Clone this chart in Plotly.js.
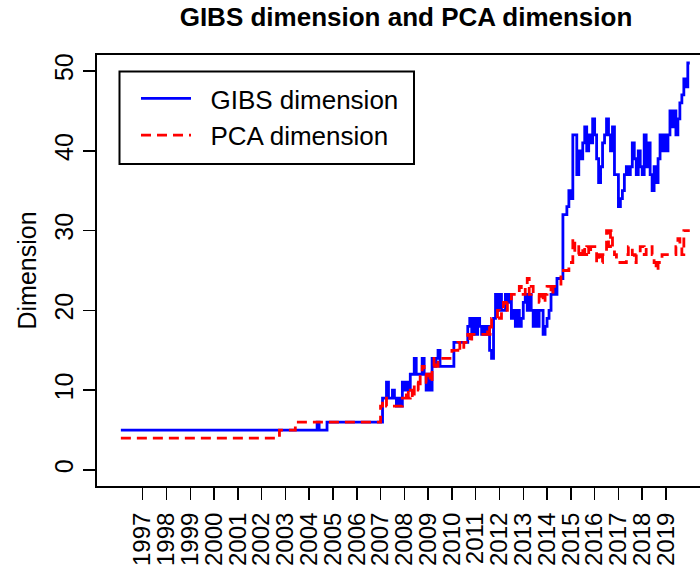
<!DOCTYPE html>
<html><head><meta charset="utf-8">
<script src="https://cdn.plot.ly/plotly-3.0.1.min.js"></script>
<style>html,body{margin:0;padding:0;overflow:hidden;background:#fff}#chart{width:730px;height:569px}</style>
</head><body><div id="chart"></div>
<script>
// tick labels (years)
const years = [1997,1998,1999,2000,2001,2002,2003,2004,2005,2006,2007,2008,2009,2010,2011,2012,2013,2014,2015,2016,2017,2018,2019];

// early period: change points (decimal year) and values
const gibsEarlyX = [1996.083, 2004.333, 2004.417, 2004.75];
const gibsEarlyY = [5, 6, 5, 6];
const pcaEarlyX = [1996.083, 2002.75, 2003.417];
const pcaEarlyY = [4, 5, 6];

// monthly values from Jan 2007 to Jan 2020
const monthlyStart = 2007;
const gibsMonthly = [
  6, 9, 9, 11, 9, 9, 10, 9, 8, 9, 8, 11,
  10, 11, 10, 12, 12, 14, 12, 12, 12, 14, 12, 10,
  12, 10, 14, 13, 14, 15, 13, 13, 13, 13, 13, 13,
  13, 16, 16, 16, 16, 16, 16, 16, 18, 19, 17, 19,
  17, 19, 18, 17, 18, 17, 18, 15, 14, 19, 22, 20,
  22, 20, 20, 22, 21, 22, 19, 20, 18, 20, 18, 19,
  21, 22, 20, 22, 20, 18, 20, 18, 20, 20, 17, 18,
  19, 20, 22, 23, 22, 24, 24, 24, 32, 32, 33, 35,
  34, 42, 42, 37, 40, 39, 41, 43, 40, 42, 41, 44,
  42, 39, 36, 38, 41, 42, 44, 42, 40, 43, 37, 37,
  33, 34, 35, 37, 38, 37, 38, 41, 39, 37, 40, 38,
  37, 42, 38, 41, 37, 35, 38, 36, 39, 42, 40, 42,
  40, 42, 45, 43, 45, 42, 44, 46, 47, 49, 48, 51,
  51
];
const pcaMonthly = [
  8, 9, 9, 8, 8, 8, 8, 8, 8, 8, 8, 9,
  9, 10, 9, 10, 9, 11, 11, 10, 12, 13, 12, 11,
  12, 11, 13, 14, 13, 14, 14, 14, 14, 14, 14, 14,
  15, 15, 15, 16, 15, 15, 16, 16, 17, 16, 17, 17,
  17, 17, 17, 17, 17, 17, 18, 17, 19, 19, 19, 20,
  19, 20, 21, 20, 21, 21, 22, 22, 22, 22, 23, 22,
  22, 23, 24, 22, 23, 22, 22, 22, 21, 22, 21, 22,
  23, 23, 22, 23, 23, 23, 23, 25, 25, 25, 25, 26,
  26, 29, 27, 27, 28, 27, 28, 27, 28, 27, 28, 28,
  28, 26, 27, 26, 27, 27, 30, 28, 30, 28, 27, 26,
  26, 26, 26, 26, 27, 28, 28, 27, 26, 27, 27, 28,
  28, 27, 28, 28, 28, 27, 26, 25, 26, 26, 27, 27,
  27, 27, 27, 27, 27, 28, 29, 28, 27, 30, 30, 30,
  30
];

const monthX = gibsMonthly.map((_, i) => monthlyStart + i / 12);
const gibsX = gibsEarlyX.concat(monthX);
const gibsY = gibsEarlyY.concat(gibsMonthly);
const pcaX = pcaEarlyX.concat(pcaMonthly.map((_, i) => monthlyStart + i / 12));
const pcaY = pcaEarlyY.concat(pcaMonthly);

const font = 'Liberation Sans, Arial, sans-serif';
const pad = '\u00a0\u00a0';

const traces = [
  {x: gibsX, y: gibsY, type: 'scatter', mode: 'lines', name: pad + 'GIBS dimension',
   line: {color: '#0000FF', width: 2.8, shape: 'hv'}},
  {x: pcaX, y: pcaY, type: 'scatter', mode: 'lines', name: pad + 'PCA dimension',
   line: {color: '#FF0000', width: 2.8, shape: 'hv', dash: '10px,6px'}}
];

const axisCommon = {
  showgrid: false, zeroline: false, showline: true, mirror: true,
  linecolor: '#000', linewidth: 2, ticks: 'outside', ticklen: 12,
  tickwidth: 1.5, tickcolor: '#000', tickangle: -90,
  tickfont: {family: font, size: 25, color: '#000'}
};

const layout = {
  width: 730, height: 569,
  margin: {l: 97, r: 15, t: 55, b: 83},
  paper_bgcolor: '#fff', plot_bgcolor: '#fff',
  font: {family: font, color: '#000'},
  title: {text: '<b>GIBS dimension and PCA dimension</b>', font: {family: font, size: 26, color: '#000'},
          x: 0.5, xref: 'paper', y: 1 - 17 / 569, yref: 'container', yanchor: 'middle'},
  xaxis: Object.assign({}, axisCommon, {
    range: [1995.08, 2021.06], tickmode: 'array', tickvals: years, ticktext: years.map(String),
    ticklabelstandoff: 3, tickfont: {family: font, size: 24, color: '#000'}
  }),
  yaxis: Object.assign({}, axisCommon, {
    range: [-2, 52], tickmode: 'array', tickvals: [0, 10, 20, 30, 40, 50],
    title: {text: 'Dimension', font: {family: font, size: 25, color: '#000'}}
  }),
  legend: {
    x: (136 - 97) / 618, y: 0.9536, xanchor: 'left', yanchor: 'top',
    borderwidth: 0, bgcolor: 'rgba(0,0,0,0)',
    font: {family: font, size: 26, color: '#000'}, itemwidth: 50
  },
  shapes: [{
    type: 'rect', xref: 'paper', yref: 'paper',
    x0: (119.5 - 97) / 618, x1: (414 - 97) / 618,
    y0: (486 - 164) / 431, y1: (486 - 71.5) / 431,
    line: {color: '#000', width: 2}, fillcolor: '#fff', layer: 'below'
  }],
  showlegend: true
};

Plotly.newPlot('chart', traces, layout, {displayModeBar: false, staticPlot: true});
</script></body></html>
